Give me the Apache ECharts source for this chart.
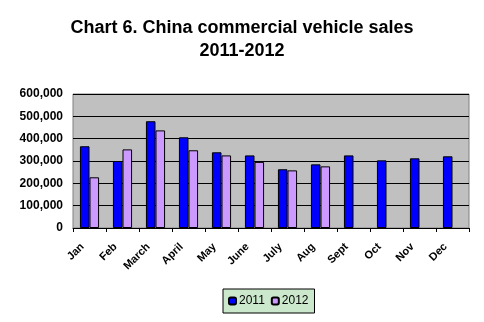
<!DOCTYPE html>
<html><head><meta charset="utf-8">
<script src="https://cdn.jsdelivr.net/npm/echarts@6/dist/echarts.min.js"></script>
<style>html,body{margin:0;padding:0;background:#fff}#c{width:484px;height:322px}</style>
</head><body><div id="c"></div>
<script>
const categories = ['Jan','Feb','March','April','May','June','July','Aug','Sept','Oct','Nov','Dec'];
const sales2011 = [366000, 300000, 478000, 406000, 339000, 325000, 263000, 285000, 325000, 303000, 312000, 321000];
const sales2012 = [227000, 352000, 437000, 348000, 325000, 296000, 258000, 276000, null, null, null, null];
const seriesNames = ['2011', '2012'];
const yTicks = [0, 100000, 200000, 300000, 400000, 500000, 600000];

const chart = echarts.init(document.getElementById('c'));
chart.setOption({
  animation: false,
  title: {
    text: 'Chart 6. China commercial vehicle sales\n2011-2012',
    left: 'center', top: 12,
    textStyle: { fontFamily: 'Liberation Sans', fontWeight: 'bold', fontSize: 18, lineHeight: 23, color: '#000' }
  },
  legend: {
    data: seriesNames, bottom: 9, left: 223,
    itemWidth: 7, itemHeight: 7, itemGap: 6,
    backgroundColor: '#cce8cc', borderColor: '#000', borderWidth: 1,
    padding: [6, 6, 6, 5],
    textStyle: { fontFamily: 'Liberation Sans', fontSize: 12, color: '#000', padding: [0,0,0,-2] }
  },
  grid: {
    left: 73, right: 15, top: 94, bottom: 94, show: true,
    backgroundColor: '#c0c0c0', borderColor: '#808080', borderWidth: 1
  },
  xAxis: {
    type: 'category', data: categories,
    axisLine: { lineStyle: { color: '#000', width: 1 } },
    axisTick: { show: true, length: 4, lineStyle: { color: '#000' } },
    axisLabel: { rotate: 45, margin: 10, padding: [0, 10, 0, 0], fontFamily: 'Liberation Sans', fontWeight: 'bold', fontSize: 11, color: '#000' }
  },
  yAxis: {
    type: 'value', min: yTicks[0], max: yTicks[yTicks.length - 1], interval: 100000,
    axisLine: { show: false }, axisTick: { show: false },
    splitLine: { lineStyle: { color: '#000', width: 1 } },
    axisLabel: {
      margin: 10, fontFamily: 'Liberation Sans', fontWeight: 'bold', fontSize: 12, color: '#000',
      formatter: v => v.toLocaleString('en-US')
    }
  },
  series: [
    { name: seriesNames[0], type: 'bar', data: sales2011, barGap: '0%', barCategoryGap: '42%',
      itemStyle: { color: '#0000ff', borderColor: '#000', borderWidth: 1 } },
    { name: seriesNames[1], type: 'bar', data: sales2012,
      itemStyle: { color: '#cc99ff', borderColor: '#000', borderWidth: 1 } }
  ]
});
</script></body></html>
